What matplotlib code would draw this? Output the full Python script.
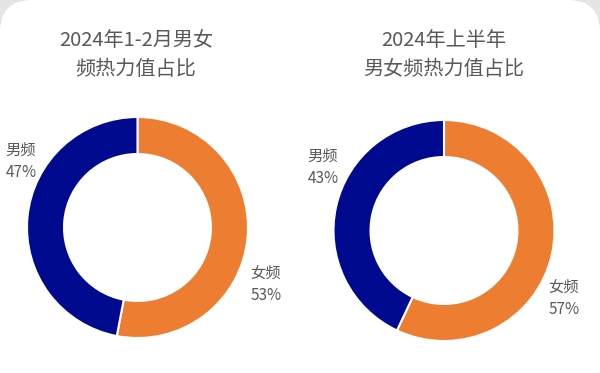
import matplotlib
matplotlib.use("Agg")
import matplotlib.pyplot as plt
from matplotlib.patches import FancyBboxPatch

plt.rcParams['font.family'] = ['Noto Sans CJK SC', 'DejaVu Sans']

titles = ["2024年1-2月男女\n频热力值占比", "2024年上半年\n男女频热力值占比"]
categories = ["女频", "男频"]
left_values = [53, 47]
right_values = [57, 43]
colors = ["#ED7D31", "#000A8F"]

W, H = 600, 373
fig = plt.figure(figsize=(6, 3.73), dpi=100, facecolor="#e4e4e4")
ax = fig.add_axes([0, 0, 1, 1])
ax.set_facecolor("none")

card = FancyBboxPatch((0, -60), W, H + 60, boxstyle="round,pad=0,rounding_size=32",
                      facecolor="white", edgecolor="none", zorder=0)
ax.add_patch(card)

def donut(values, cx, cy, r):
    wedges, _ = ax.pie(values, colors=colors, startangle=90, counterclock=False,
                       center=(cx, H - cy), radius=r, frame=True,
                       wedgeprops=dict(width=r * 0.335, edgecolor="white", linewidth=1.5))
    for w in wedges:
        w.set_zorder(2)

donut(left_values, 137.5, 227.5, 110.5)
donut(right_values, 444, 230.5, 110.5)

ax.set_xlim(0, W)
ax.set_ylim(0, H)
ax.set_aspect("auto")
ax.axis("off")

tcol = "#595959"
ax.text(136, H - 55, titles[0], ha="center", va="center", fontsize=14.5, color=tcol,
        linespacing=1.45, zorder=3)
ax.text(444, H - 55, titles[1], ha="center", va="center", fontsize=14.5, color=tcol,
        linespacing=1.45, zorder=3)

lab_fs = 11
def label(x, y, name, val):
    ax.text(x, H - y, f"{name}\n{val}%", ha="center", va="center", fontsize=lab_fs,
            color=tcol, linespacing=1.4, zorder=3)

label(21, 161, categories[1], left_values[1])
label(266, 284, categories[0], left_values[0])
label(323, 167, categories[1], right_values[1])
label(564, 298, categories[0], right_values[0])

fig.savefig("out.png", dpi=100, facecolor=fig.get_facecolor())
